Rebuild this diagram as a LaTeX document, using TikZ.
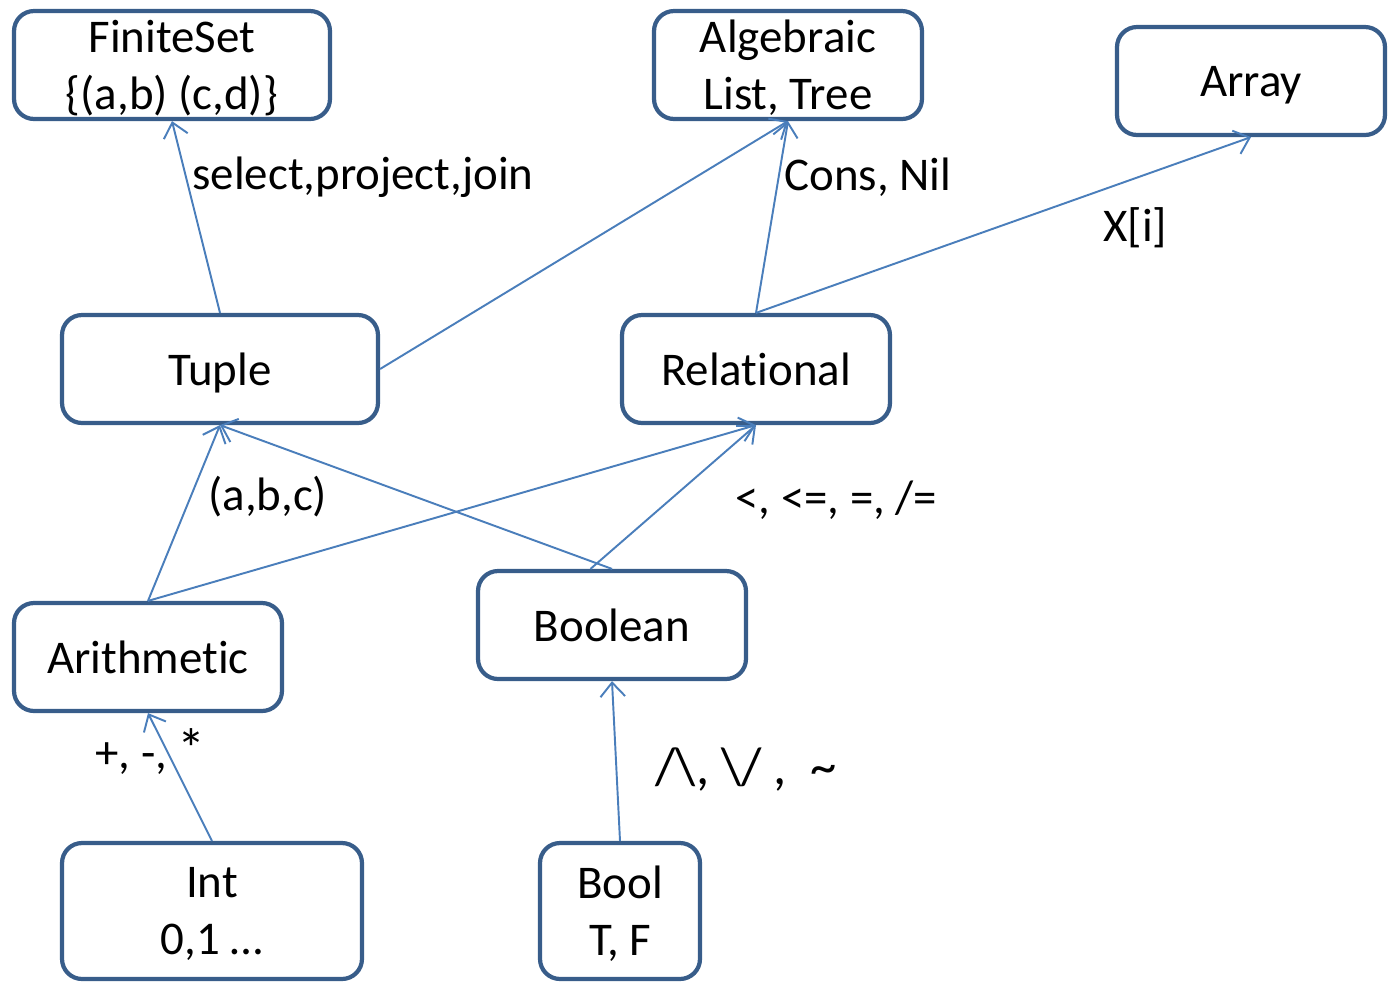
\documentclass[tikz,border=0pt]{standalone}
\usepackage{fontspec}
\setmainfont{Carlito}[Ligatures=NoCommon]
\usepackage{tikz}
\usetikzlibrary{arrows.meta, positioning}
\definecolor{boxblue}{HTML}{385D8A}
\definecolor{lineblue}{HTML}{4A7EBB}

\begin{document}
\begin{tikzpicture}[x=0.02cm, y=-0.02cm,
    box/.style={draw=boxblue, line width=2.4pt, rounded corners=0.4cm,
                fill=white, minimum width=5.36cm, minimum height=2.16cm,
                inner sep=0pt, align=center, text depth=0pt,
                font=\fontsize{26.7}{32.4}\selectfont},
    wide/.style={minimum width=6.32cm},
    lbl/.style={anchor=west, inner sep=0pt,
                font=\fontsize{26.7}{32.4}\selectfont},
    link/.style={-{Straight Barb[length=8pt, width=14pt]},
                 draw=lineblue, line width=1.1pt}
  ]
    \useasboundingbox (0,0) rectangle (1390,985);

    % top row
    \node[box, wide] (finite) at (172,65) {FiniteSet\\\{(a,b) (c,d)\}};
    \node[box] (algebraic) at (788,65) {Algebraic\\List, Tree};
    \node[box] (array) at (1251,81) {Array};

    % middle rows
    \node[box, wide] (tuple) at (220,369) {Tuple};
    \node[box] (relational) at (756,369) {Relational};
    \node[box] (arith) at (148,657) {Arithmetic};
    \node[box] (boolean) at (612,625) {Boolean};

    % base types
    \node[box, minimum width=6cm, minimum height=2.72cm] (int) at (212,911) {Int\\0,1 …};
    \node[box, minimum width=3.2cm, minimum height=2.72cm] (bool) at (620,911) {Bool\\T, F};

    % operation labels
    \node[lbl] (selectlbl) at (192,177) {select,project,join};
    \node[lbl] (conslbl) at (784,177) {Cons, Nil};
    \node[lbl] (idxlbl) at (1103,228) {X[i]};
    \node[lbl] (tuplelbl) at (208,497) {(a,b,c)};
    \node[lbl] (cmplbl) at (735,500) {<, <=, =, /=};
    \node[lbl] (oplbl) at (95,752) {+, -, {\fontsize{32}{36}\selectfont *}};
    \node[lbl, font=\fontsize{30}{36}\selectfont] (logiclbl) at (655,770)
      {/\textbackslash, \textbackslash/ ,\ \ \textasciitilde};

    \draw[link] (tuple.north) -- (finite.south);
    \draw[link] (tuple.east) -- (algebraic.south);
    \draw[link] (relational.north) -- (algebraic.south);
    \draw[link] (relational.north) -- (array.south);
    \draw[link] (arith.north) -- (tuple.south);
    \draw[link] (arith.north) -- (relational.south);
    \draw[link] (boolean.north) -- (tuple.south);
    \draw[link] (boolean.111) -- (relational.south);
    \draw[link] (int.north) -- (arith.south);
    \draw[link] (bool.north) -- (boolean.south);
  \end{tikzpicture}
\end{document}
